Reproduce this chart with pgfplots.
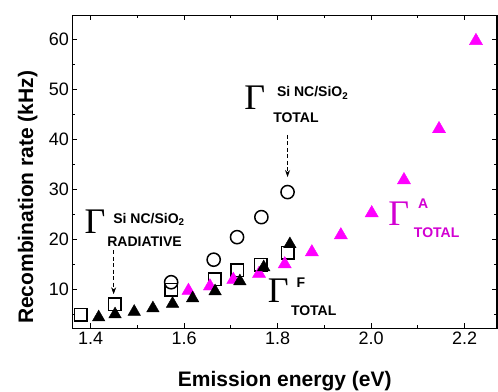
\documentclass[border=0pt]{standalone}
\usepackage{pgfplots}
\pgfplotsset{compat=1.18}
\usepackage{fontspec}
\setmainfont{Liberation Sans}
\newfontfamily\serifG{Liberation Serif}
\usetikzlibrary{arrows.meta}
\definecolor{mag}{RGB}{255,0,255}
\definecolor{magtext}{RGB}{210,0,210}

\begin{document}
\begin{tikzpicture}
\useasboundingbox (-72.5pt,-63pt) rectangle (425.5pt,328.3pt);
\begin{axis}[
  scale only axis, width=424.5pt, height=313pt,
  xmin=1.361, xmax=2.269, ymin=2.3, ymax=64.8,
  clip=false,
  xtick={1.4,1.6,1.8,2.0,2.2}, minor xtick={1.5,1.7,1.9,2.1},
  ytick={10,20,30,40,50,60}, minor ytick={5,15,25,35,45,55},
  major tick length=5pt, minor tick length=3pt,
  every tick/.style={black, line width=1pt},
  axis line style={line width=1.2pt},
  /pgf/number format/assume math mode=true,
  tick label style={font=\fontsize{18}{18}\selectfont},
  xticklabel style={/pgf/number format/.cd, fixed, fixed zerofill, precision=1},
  xlabel={Emission energy (eV)},
  ylabel={Recombination rate (kHz)},
  every axis x label/.style={at={(axis description cs:0.5,-0.1875)}, anchor=base, font=\bfseries\fontsize{21}{21}\selectfont},
  every axis y label/.style={at={(axis description cs:-0.093,0.4185)}, rotate=90, anchor=base, font=\bfseries\fontsize{21}{21}\selectfont},
]
% radiative (open squares)
\addplot[only marks, mark=square, mark size=6.2pt, mark options={line width=1.5pt, black, fill=none}] coordinates {
(1.379,5.0) (1.451,7.1) (1.572,10.0) (1.665,12.1) (1.713,13.9) (1.764,15.0) (1.821,17.4)
};
% total (open circles)
\addplot[only marks, mark=o, mark size=6.6pt, mark options={line width=1.5pt, black, fill=none}] coordinates {
(1.572,11.5) (1.663,16.0) (1.713,20.5) (1.765,24.5) (1.821,29.5)
};
% Gamma^A total (magenta triangles)
\addplot[only marks, mark=triangle*, mark size=7.6pt, mark options={line width=0.4pt, draw=mag, fill=mag}] coordinates {
(1.609,9.8) (1.655,10.7) (1.705,12.0) (1.760,13.2) (1.815,15.1) (1.873,17.5) (1.935,20.9) (2.001,25.3) (2.070,31.9) (2.145,42.1) (2.224,59.7)
};
% Gamma^F total (black triangles)
\addplot[only marks, mark=triangle*, mark size=7.2pt, mark options={line width=0.4pt, draw=black, fill=black}] coordinates {
(1.417,4.5) (1.452,5.1) (1.493,5.6) (1.533,6.3) (1.575,7.2) (1.618,8.3) (1.666,9.7) (1.719,11.7) (1.770,14.5) (1.826,19.1)
};
% annotations
\node[inner sep=0, anchor=base, font=\serifG\fontsize{36}{36}\selectfont] at (axis cs:1.751,45.9) {Γ};
\node[inner sep=0, anchor=base west, font=\bfseries\fontsize{14}{14}\selectfont] at (axis cs:1.798,48.5) {Si NC/SiO\textsubscript{2}};
\node[inner sep=0, anchor=base west, font=\bfseries\fontsize{14}{14}\selectfont] at (axis cs:1.790,43.3) {TOTAL};
\draw[line width=0.9pt, dash pattern=on 4pt off 2.5pt, -{Stealth[length=7pt,width=5pt]}] (axis cs:1.821,40.9) -- (axis cs:1.821,32.5);

\node[inner sep=0, anchor=base, font=\serifG\fontsize{36}{36}\selectfont] at (axis cs:1.409,21.3) {Γ};
\node[inner sep=0, anchor=base west, font=\bfseries\fontsize{14}{14}\selectfont] at (axis cs:1.448,23.3) {Si NC/SiO\textsubscript{2}};
\node[inner sep=0, anchor=base west, font=\bfseries\fontsize{14}{14}\selectfont] at (axis cs:1.435,18.7) {RADIATIVE};
\draw[line width=0.9pt, dash pattern=on 4pt off 2.5pt, -{Stealth[length=7pt,width=5pt]}] (axis cs:1.449,17.9) -- (axis cs:1.449,9.1);

\node[inner sep=0, anchor=base, text=magtext, font=\serifG\fontsize{36}{36}\selectfont] at (axis cs:2.059,22.9) {Γ};
\node[inner sep=0, anchor=base west, text=magtext, font=\bfseries\fontsize{14}{14}\selectfont] at (axis cs:2.100,26.3) {A};
\node[inner sep=0, anchor=base west, text=magtext, font=\bfseries\fontsize{14}{14}\selectfont] at (axis cs:2.091,20.5) {TOTAL};

\node[inner sep=0, anchor=base, font=\serifG\fontsize{36}{36}\selectfont] at (axis cs:1.801,7.5) {Γ};
\node[inner sep=0, anchor=base west, font=\bfseries\fontsize{14}{14}\selectfont] at (axis cs:1.840,10.5) {F};
\node[inner sep=0, anchor=base west, font=\bfseries\fontsize{14}{14}\selectfont] at (axis cs:1.828,4.9) {TOTAL};
\end{axis}
\end{tikzpicture}
\end{document}
